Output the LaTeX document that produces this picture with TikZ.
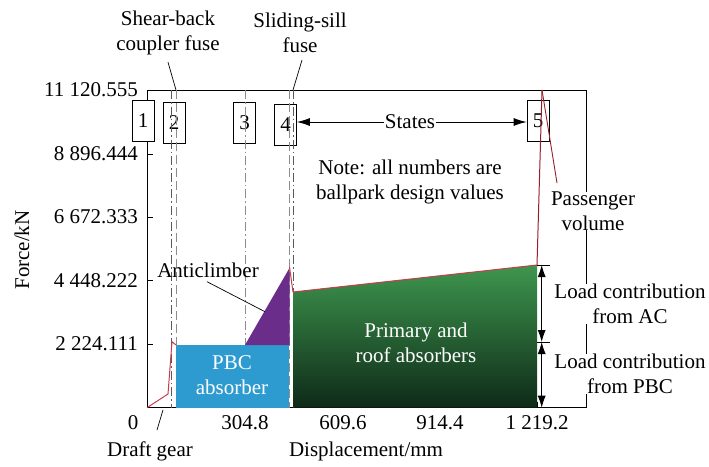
\documentclass[tikz,border=0pt]{standalone}
\usepackage{fontspec}
\setmainfont{Liberation Serif}
\usetikzlibrary{arrows.meta}
\definecolor{redline}{RGB}{200,60,75}
\definecolor{darkred}{RGB}{150,30,45}
\definecolor{pbcblue}{RGB}{46,155,208}
\definecolor{acpurple}{RGB}{106,45,138}
\definecolor{grtop}{RGB}{62,150,78}
\definecolor{grbot}{RGB}{14,42,24}
\definecolor{dgray}{RGB}{90,90,90}
\definecolor{lgray}{RGB}{140,140,140}
\begin{document}
\begin{tikzpicture}[x=1pt,y=-1pt,font=\fontsize{21}{25}\selectfont,
  lbl/.style={inner sep=1pt,align=center},
  wlbl/.style={inner sep=0pt,align=center,fill=white},
  stbox/.style={draw,line width=0.8pt,minimum width=22pt,minimum height=41pt,inner sep=0pt},
  ax/.style={line width=0.9pt},
  thinl/.style={line width=0.7pt},
  dd/.style={line width=0.8pt,dgray,dash pattern=on 9pt off 3pt on 1.5pt off 3pt},
  dg/.style={line width=0.8pt,lgray,dash pattern=on 9pt off 4pt},
  dgd/.style={line width=0.8pt,lgray,dash pattern=on 9pt off 3pt on 1.5pt off 3pt},
  fcurve/.style={line width=1pt,redline,line join=round},
  arr/.style={line width=0.8pt,{Latex[length=12pt,width=8pt]}-{Latex[length=12pt,width=8pt]}},
  sarr/.style={line width=0.8pt,-{Latex[length=13pt,width=8pt]}}]
\useasboundingbox (0,0) rectangle (709,466);
% key coordinates
\coordinate (o) at (147,407.7);
\coordinate (tl) at (147,90);
\coordinate (tr) at (586,90);
\coordinate (br) at (586,407.7);
% axes
\draw[ax] (tr) -- (tl) -- (o) -- (br) -- cycle;
\foreach \y in {344,280.7,217,154} \draw[ax] (147,\y) -- (153,\y);
\foreach \x in {245,343,440,537} \draw[ax] (\x,407.7) -- (\x,402);
% tick labels
\node[lbl,anchor=east] (y5) at (139,90) {11 120.555};
\node[lbl,anchor=east] (y4) at (139,154) {8 896.444};
\node[lbl,anchor=east] (y3) at (139,217) {6 672.333};
\node[lbl,anchor=east] (y2) at (139,280.7) {4 448.222};
\node[lbl,anchor=east] (y1) at (139,344) {2 224.111};
\node[lbl] (x0) at (133,423) {0};
\node[lbl] (x1) at (245,423) {304.8};
\node[lbl] (x2) at (343,423) {609.6};
\node[lbl] (x3) at (440,423) {914.4};
\node[lbl] (x4) at (537,423) {1 219.2};
\node[lbl,rotate=90] (ylab) at (22,250) {Force/kN};
\node[lbl] (xlab) at (366,451) {Displacement/mm};
% state boxes
\node[stbox,fill=white] (b1) at (143,120.5) {1};
\node[stbox] (b2) at (174,122.5) {2};
\node[stbox] (b3) at (244.5,122.5) {3};
\node[stbox] (b4) at (285.5,124.5) {4};
\node[stbox] (b5) at (538,121) {5};
% vertical state lines
\draw[dd] (171,90) -- (171,407.7);
\draw[dg] (176,90) -- (176,407.7);
\draw[dgd] (245,90) -- (245,407.7);
\draw[dg] (289,90) -- (289,407.7);
\draw[dd] (293,90) -- (293,407.7);
% fills
\fill[pbcblue] (176,345) rectangle (289,407.7);
\fill[acpurple] (245,345) -- (289.5,345) -- (289.5,268) -- cycle;
\shade[top color=grtop,bottom color=grbot] (293,292) -- (537,265) -- (537,407.7) -- (293,407.7) -- cycle;
% force curve
\draw[fcurve] (o) -- (168,394) -- (172,341.7) -- (176,345);
\draw[fcurve] (289.5,267) -- (293,292) -- (537,265);
\draw[line width=1pt,darkred] (537,265) -- (542,90);
% states arrow
\node[lbl] (st) at (410,122) {States};
\draw[sarr] (st.west) -- (st.west -| b4.east);
\draw[sarr] (st.east) -- (st.east -| b5.west);
% top labels
\node[lbl] (sb) at (168,33) {Shear-back\\coupler fuse};
\node[lbl] (ss) at (300,33) {Sliding-sill\\fuse};
\coordinate (sbp) at (176,90);
\coordinate (ssp) at (293,90);
\draw[thinl] (sb.south) ++(0,6) -- (sbp);
\draw[thinl] (ss.south) ++(2,6) -- (ssp);
% note
\node[lbl] (note) at (410,182) {Note: all numbers are\\ballpark design values};
% region labels
\node[lbl,white] (pbc) at (232,375) {PBC\\absorber};
\node[lbl,white] (prim) at (416,343) {Primary and\\roof absorbers};
\node[lbl] (ac) at (208,270) {Anticlimber};
\coordinate (acp) at (265,311.7);
\draw[thinl] (207,281.7) -- (acp);
% draft gear
\node[lbl] (dgl) at (150,451) {Draft gear};
\coordinate (dgp) at (163,410);
\draw[thinl] (dgp) -- (157,430);
% right side labels
\node[wlbl] (pv) at (593,211) {Passenger\\volume};
\coordinate (pvp) at (542,90);
\draw[line width=0.9pt,darkred] (pvp) -- (557,183);
\node[wlbl] (lac) at (630,304) {Load contribution\\from AC};
\node[wlbl] (lpbc) at (630,374) {Load contribution\\from PBC};
% load arrows
\coordinate (a1) at (541.7,265);
\coordinate (a2) at (541.7,342);
\coordinate (a3) at (541.7,407.7);
\draw[thinl] (537,265) -- (550,265);
\draw[thinl] (537,342) -- (550,342);
\draw[arr] (a1) -- (a2);
\draw[arr] (a2) -- (a3);
\end{tikzpicture}
\end{document}
